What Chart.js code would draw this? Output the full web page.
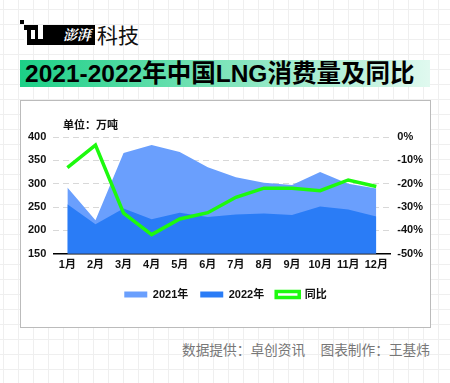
<!DOCTYPE html>
<html>
<head>
<meta charset="utf-8">
<script src="https://cdn.jsdelivr.net/npm/chart.js@4"></script>
<style>
  html, body { margin: 0; padding: 0; }
  body {
    width: 450px; height: 383px; position: relative; overflow: hidden;
    background-color: #fff;
    background-image:
      linear-gradient(to right, #efefef 1px, transparent 1px),
      linear-gradient(to bottom, #efefef 1px, transparent 1px);
    background-size: 15px 15px;
    background-position: 3px 9px;
    font-family: 'Liberation Sans', 'Noto Sans CJK SC', sans-serif;
  }
  .dot { position: absolute; left: 20px; top: 20px; width: 4px; height: 4px; background: #000; }
  .logo { position: absolute; left: 24px; top: 25px; width: 71px; height: 20px; background: #000; }
  .logo .cut { position: absolute; left: 0px; top: 5px; width: 3px; height: 15px; background: #fff; }
  .logo .cut2 { position: absolute; left: 7px; top: 5px; width: 4px; height: 9px; background: #fff; }
  .logo .cut3 { position: absolute; left: 14px; top: 0px; width: 5px; height: 14px; background: #fff; }
  .logo .pp { position: absolute; right: 4px; top: 0px; color: #fff; font: bold 14px 'Noto Serif CJK SC', 'Noto Sans CJK SC', serif; line-height: 18px; font-style: italic; }
  .tech { position: absolute; left: 97px; top: 22px; font: 21px 'Noto Sans CJK SC', sans-serif; line-height: 24px; color: #111; }
  .title {
    position: absolute; left: 20px; top: 60px; width: 410px; height: 27px;
    background: linear-gradient(to right, #1ccf86, #e0f9ef);
  }
  .title span { position: absolute; left: 5px; top: 0; font: bold 24.5px 'Liberation Sans', 'Noto Sans CJK SC', sans-serif; line-height: 28px; color: #000; white-space: nowrap; }
  .box { position: absolute; left: 20px; top: 100px; width: 409px; height: 226px; background: #fff; border: 1px solid #bbb; }
  .unit { position: absolute; left: 63px; top: 116px; font: bold 11px 'Liberation Sans', 'Noto Sans CJK SC', sans-serif; color: #111; }
  .src { position: absolute; right: 20px; top: 339px; font: 13.7px 'Noto Sans CJK SC', sans-serif; color: #777; white-space: nowrap; }
  #wrap { position: absolute; left: 21px; top: 101px; width: 409px; height: 226px; }
</style>
</head>
<body>
<div class="dot"></div>
<div class="logo"><div class="cut"></div><div class="cut2"></div><div class="cut3"></div><div class="pp">澎湃</div></div>
<div class="tech">科技</div>
<div class="title"><span>2021-2022年中国LNG消费量及同比</span></div>
<div class="box"></div>
<div id="wrap"><canvas id="lngChart"></canvas></div>
<div class="unit">单位：万吨</div>
<div class="src">数据提供：卓创资讯&nbsp;&nbsp;&nbsp;&nbsp;&nbsp;图表制作：王基炜</div>
<script>
var months = ['1月', '2月', '3月', '4月', '5月', '6月', '7月', '8月', '9月', '10月', '11月', '12月'];
var consumption2021 = [292, 222, 366, 383, 368, 335, 314, 302, 297, 325, 300, 290];
var consumption2022 = [256, 213, 247, 224, 238, 229, 234, 236, 233, 251, 245, 230];
var yoyChange = [-13.1, -3.5, -32.6, -41.8, -35.1, -32.4, -25.8, -21.9, -21.9, -23.0, -18.4, -21.2];

var tickFont = { family: "'Liberation Sans', 'Noto Sans CJK SC', sans-serif", size: 11, weight: 'bold' };

document.addEventListener('DOMContentLoaded', function() {
    var ctx = document.getElementById('lngChart').getContext('2d');
    var lngChart = new Chart(ctx, {
        type: 'line',
        data: {
            labels: months,
            datasets: [{
                label: '同比',
                data: yoyChange,
                yAxisID: 'y1',
                borderColor: '#1dfa0e',
                backgroundColor: '#ffffff',
                borderWidth: 3.5,
                pointRadius: 0,
                fill: false,
                order: 0
            }, {
                label: '2022年',
                data: consumption2022,
                yAxisID: 'y',
                borderWidth: 0,
                borderColor: '#2a7cf6',
                backgroundColor: '#2a7cf6',
                pointRadius: 0,
                fill: 'start',
                order: 1
            }, {
                label: '2021年',
                data: consumption2021,
                yAxisID: 'y',
                borderWidth: 0,
                borderColor: '#6a9ffd',
                backgroundColor: '#6a9ffd',
                pointRadius: 0,
                fill: 'start',
                order: 2
            }]
        },
        options: {
            responsive: true,
            maintainAspectRatio: false,
            animation: false,
            layout: { padding: { top: 36, left: 0, right: 0, bottom: 17 } },
            plugins: {
                legend: {
                    position: 'bottom',
                    reverse: true,
                    labels: {
                        boxWidth: 23,
                        boxHeight: 6,
                        padding: 12,
                        color: '#111',
                        font: tickFont
                    }
                },
                tooltip: { enabled: false }
            },
            scales: {
                x: {
                    offset: true,
                    grid: { display: false, drawTicks: false },
                    border: { display: true, color: '#000', width: 1.5 },
                    ticks: { color: '#111', font: tickFont, padding: 5, maxRotation: 0, autoSkip: false }
                },
                y: {
                    position: 'left',
                    min: 150,
                    max: 400,
                    ticks: { stepSize: 50, color: '#111', font: tickFont, padding: 7 },
                    grid: { color: '#d8d8d8', drawTicks: false, lineWidth: 1 },
                    border: { display: false, dash: [6, 4] }
                },
                y1: {
                    position: 'right',
                    min: -50,
                    max: 0,
                    ticks: {
                        stepSize: 10,
                        color: '#111',
                        font: tickFont,
                        padding: 7,
                        callback: function(v) { return v + '%'; }
                    },
                    grid: { display: false, drawTicks: false },
                    border: { display: false }
                }
            }
        }
    });
});
</script>
</body>
</html>
